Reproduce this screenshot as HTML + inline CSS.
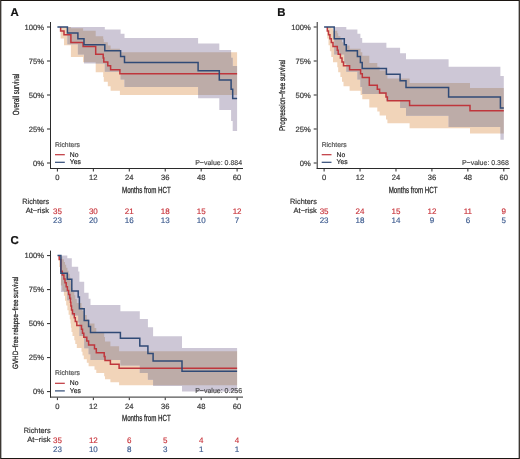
<!DOCTYPE html>
<html><head><meta charset="utf-8"><style>
html,body{margin:0;padding:0;background:#fff;}
body{width:520px;height:459px;overflow:hidden;position:relative;}
svg{position:absolute;left:0;top:0;will-change:transform;text-rendering:geometricPrecision;font-family:"Liberation Sans",sans-serif;}
.bd{position:absolute;left:0;top:0;width:520px;height:459px;box-sizing:border-box;}
</style></head><body>
<svg width="520" height="459" viewBox="0 0 520 459">
<rect width="520" height="459" fill="#fff"/>
<defs><clipPath id="coA"><path d="M60.60,27.00 L64.00,27.00 L64.00,27.00 L70.90,27.00 L70.90,28.21 L83.10,28.21 L83.10,30.66 L95.70,30.66 L95.70,36.18 L103.20,36.18 L103.20,39.17 L103.80,39.17 L103.80,42.28 L107.80,42.28 L107.80,45.50 L110.60,45.50 L110.60,48.83 L119.90,48.83 L119.90,52.24 L237.10,52.24 L237.10,95.02 L119.90,95.02 L119.90,90.66 L110.60,90.66 L110.60,86.21 L107.80,86.21 L107.80,81.66 L103.80,81.66 L103.80,77.01 L103.20,77.01 L103.20,72.22 L95.70,72.22 L95.70,62.20 L83.10,62.20 L83.10,56.88 L70.90,56.88 L70.90,45.23 L64.00,45.23 L64.00,38.39 L60.60,38.39 Z"/></clipPath></defs>
<path d="M60.60,27.00 L64.00,27.00 L64.00,27.00 L70.90,27.00 L70.90,28.21 L83.10,28.21 L83.10,30.66 L95.70,30.66 L95.70,36.18 L103.20,36.18 L103.20,39.17 L103.80,39.17 L103.80,42.28 L107.80,42.28 L107.80,45.50 L110.60,45.50 L110.60,48.83 L119.90,48.83 L119.90,52.24 L237.10,52.24 L237.10,95.02 L119.90,95.02 L119.90,90.66 L110.60,90.66 L110.60,86.21 L107.80,86.21 L107.80,81.66 L103.80,81.66 L103.80,77.01 L103.20,77.01 L103.20,72.22 L95.70,72.22 L95.70,62.20 L83.10,62.20 L83.10,56.88 L70.90,56.88 L70.90,45.23 L64.00,45.23 L64.00,38.39 L60.60,38.39 Z" fill="#F1D4B9"/>
<path d="M67.40,27.00 L77.90,27.00 L77.90,27.00 L84.00,27.00 L84.00,27.00 L104.80,27.00 L104.80,29.58 L120.60,29.58 L120.60,33.64 L124.50,33.64 L124.50,38.07 L198.10,38.07 L198.10,43.51 L219.30,43.51 L219.30,50.08 L231.10,50.08 L231.10,57.66 L232.70,57.66 L232.70,66.07 L237.10,66.07 L237.10,130.92 L232.70,130.92 L232.70,120.91 L231.10,120.91 L231.10,110.06 L219.30,110.06 L219.30,98.20 L198.10,98.20 L198.10,86.88 L124.50,86.88 L124.50,79.49 L120.60,79.49 L120.60,71.72 L104.80,71.72 L104.80,63.46 L84.00,63.46 L84.00,54.49 L77.90,54.49 L77.90,44.25 L67.40,44.25 Z" fill="#CDC7D6"/>
<path d="M67.40,27.00 L77.90,27.00 L77.90,27.00 L84.00,27.00 L84.00,27.00 L104.80,27.00 L104.80,29.58 L120.60,29.58 L120.60,33.64 L124.50,33.64 L124.50,38.07 L198.10,38.07 L198.10,43.51 L219.30,43.51 L219.30,50.08 L231.10,50.08 L231.10,57.66 L232.70,57.66 L232.70,66.07 L237.10,66.07 L237.10,130.92 L232.70,130.92 L232.70,120.91 L231.10,120.91 L231.10,110.06 L219.30,110.06 L219.30,98.20 L198.10,98.20 L198.10,86.88 L124.50,86.88 L124.50,79.49 L120.60,79.49 L120.60,71.72 L104.80,71.72 L104.80,63.46 L84.00,63.46 L84.00,54.49 L77.90,54.49 L77.90,44.25 L67.40,44.25 Z" fill="#BDACA8" clip-path="url(#coA)"/>
<path d="M60.60,27.00 L60.60,30.89 L64.00,30.89 L64.00,34.77 L70.90,34.77 L70.90,42.54 L83.10,42.54 L83.10,46.43 L95.70,46.43 L95.70,54.20 L103.20,54.20 L103.20,58.09 L103.80,58.09 L103.80,61.97 L107.80,61.97 L107.80,65.86 L110.60,65.86 L110.60,69.74 L119.90,69.74 L119.90,73.63 L237.10,73.63" fill="none" stroke="#BF363C" stroke-width="1.5" stroke-linejoin="miter" stroke-linecap="butt"/>
<path d="M57.40,27.00 L67.40,27.00 L67.40,32.91 L77.90,32.91 L77.90,38.83 L84.00,38.83 L84.00,44.74 L104.80,44.74 L104.80,50.65 L120.60,50.65 L120.60,56.57 L124.50,56.57 L124.50,62.48 L198.10,62.48 L198.10,70.86 L219.30,70.86 L219.30,80.07 L231.10,80.07 L231.10,89.28 L232.70,89.28 L232.70,98.50 L237.10,98.50" fill="none" stroke="#304A76" stroke-width="1.5" stroke-linejoin="miter" stroke-linecap="butt"/>
<defs><clipPath id="coB"><path d="M327.30,27.00 L328.50,27.00 L328.50,27.00 L329.90,27.00 L329.90,27.00 L331.30,27.00 L331.30,28.21 L333.00,28.21 L333.00,30.66 L337.30,30.66 L337.30,33.33 L338.20,33.33 L338.20,36.18 L340.40,36.18 L340.40,39.17 L342.00,39.17 L342.00,42.28 L343.50,42.28 L343.50,45.50 L349.60,45.50 L349.60,48.83 L360.60,48.83 L360.60,52.24 L362.30,52.24 L362.30,55.74 L369.30,55.74 L369.30,62.99 L377.30,62.99 L377.30,66.73 L379.60,66.73 L379.60,70.54 L386.00,70.54 L386.00,74.42 L387.40,74.42 L387.40,78.38 L409.60,78.38 L409.60,83.02 L470.00,83.02 L470.00,88.09 L503.80,88.09 L503.80,133.56 L470.00,133.56 L470.00,128.20 L409.60,128.20 L409.60,123.27 L387.40,123.27 L387.40,119.46 L386.00,119.46 L386.00,115.58 L379.60,115.58 L379.60,111.62 L377.30,111.62 L377.30,107.58 L369.30,107.58 L369.30,99.29 L362.30,99.29 L362.30,95.02 L360.60,95.02 L360.60,90.66 L349.60,90.66 L349.60,86.21 L343.50,86.21 L343.50,81.66 L342.00,81.66 L342.00,77.01 L340.40,77.01 L340.40,72.22 L338.20,72.22 L338.20,67.30 L337.30,67.30 L337.30,62.20 L333.00,62.20 L333.00,56.88 L331.30,56.88 L331.30,51.27 L329.90,51.27 L329.90,45.23 L328.50,45.23 L328.50,38.39 L327.30,38.39 Z"/></clipPath></defs>
<path d="M327.30,27.00 L328.50,27.00 L328.50,27.00 L329.90,27.00 L329.90,27.00 L331.30,27.00 L331.30,28.21 L333.00,28.21 L333.00,30.66 L337.30,30.66 L337.30,33.33 L338.20,33.33 L338.20,36.18 L340.40,36.18 L340.40,39.17 L342.00,39.17 L342.00,42.28 L343.50,42.28 L343.50,45.50 L349.60,45.50 L349.60,48.83 L360.60,48.83 L360.60,52.24 L362.30,52.24 L362.30,55.74 L369.30,55.74 L369.30,62.99 L377.30,62.99 L377.30,66.73 L379.60,66.73 L379.60,70.54 L386.00,70.54 L386.00,74.42 L387.40,74.42 L387.40,78.38 L409.60,78.38 L409.60,83.02 L470.00,83.02 L470.00,88.09 L503.80,88.09 L503.80,133.56 L470.00,133.56 L470.00,128.20 L409.60,128.20 L409.60,123.27 L387.40,123.27 L387.40,119.46 L386.00,119.46 L386.00,115.58 L379.60,115.58 L379.60,111.62 L377.30,111.62 L377.30,107.58 L369.30,107.58 L369.30,99.29 L362.30,99.29 L362.30,95.02 L360.60,95.02 L360.60,90.66 L349.60,90.66 L349.60,86.21 L343.50,86.21 L343.50,81.66 L342.00,81.66 L342.00,77.01 L340.40,77.01 L340.40,72.22 L338.20,72.22 L338.20,67.30 L337.30,67.30 L337.30,62.20 L333.00,62.20 L333.00,56.88 L331.30,56.88 L331.30,51.27 L329.90,51.27 L329.90,45.23 L328.50,45.23 L328.50,38.39 L327.30,38.39 Z" fill="#F1D4B9"/>
<path d="M334.20,27.00 L344.30,27.00 L344.30,27.00 L346.30,27.00 L346.30,29.58 L357.40,29.58 L357.40,33.64 L360.40,33.64 L360.40,38.07 L362.20,38.07 L362.20,42.82 L386.40,42.82 L386.40,47.83 L400.10,47.83 L400.10,53.30 L406.00,53.30 L406.00,59.33 L448.60,59.33 L448.60,66.82 L500.40,66.82 L500.40,76.04 L503.80,76.04 L503.80,139.86 L500.40,139.86 L500.40,127.06 L448.60,127.06 L448.60,115.68 L406.00,115.68 L406.00,107.98 L400.10,107.98 L400.10,100.78 L386.40,100.78 L386.40,93.97 L362.20,93.97 L362.20,86.88 L360.40,86.88 L360.40,79.49 L357.40,79.49 L357.40,71.72 L346.30,71.72 L346.30,63.46 L344.30,63.46 L344.30,54.49 L334.20,54.49 Z" fill="#CDC7D6"/>
<path d="M334.20,27.00 L344.30,27.00 L344.30,27.00 L346.30,27.00 L346.30,29.58 L357.40,29.58 L357.40,33.64 L360.40,33.64 L360.40,38.07 L362.20,38.07 L362.20,42.82 L386.40,42.82 L386.40,47.83 L400.10,47.83 L400.10,53.30 L406.00,53.30 L406.00,59.33 L448.60,59.33 L448.60,66.82 L500.40,66.82 L500.40,76.04 L503.80,76.04 L503.80,139.86 L500.40,139.86 L500.40,127.06 L448.60,127.06 L448.60,115.68 L406.00,115.68 L406.00,107.98 L400.10,107.98 L400.10,100.78 L386.40,100.78 L386.40,93.97 L362.20,93.97 L362.20,86.88 L360.40,86.88 L360.40,79.49 L357.40,79.49 L357.40,71.72 L346.30,71.72 L346.30,63.46 L344.30,63.46 L344.30,54.49 L334.20,54.49 Z" fill="#BDACA8" clip-path="url(#coB)"/>
<path d="M327.30,27.00 L327.30,30.89 L328.50,30.89 L328.50,34.77 L329.90,34.77 L329.90,38.66 L331.30,38.66 L331.30,42.54 L333.00,42.54 L333.00,46.43 L337.30,46.43 L337.30,50.31 L338.20,50.31 L338.20,54.20 L340.40,54.20 L340.40,58.09 L342.00,58.09 L342.00,61.97 L343.50,61.97 L343.50,65.86 L349.60,65.86 L349.60,69.74 L360.60,69.74 L360.60,73.63 L362.30,73.63 L362.30,77.51 L369.30,77.51 L369.30,85.29 L377.30,85.29 L377.30,89.17 L379.60,89.17 L379.60,93.06 L386.00,93.06 L386.00,96.94 L387.40,96.94 L387.40,100.83 L409.60,100.83 L409.60,105.61 L470.00,105.61 L470.00,110.83 L503.80,110.83" fill="none" stroke="#BF363C" stroke-width="1.5" stroke-linejoin="miter" stroke-linecap="butt"/>
<path d="M324.10,27.00 L334.20,27.00 L334.20,38.83 L344.30,38.83 L344.30,44.74 L346.30,44.74 L346.30,50.65 L357.40,50.65 L357.40,56.57 L360.40,56.57 L360.40,62.48 L362.20,62.48 L362.20,68.39 L386.40,68.39 L386.40,74.30 L400.10,74.30 L400.10,80.64 L406.00,80.64 L406.00,87.50 L448.60,87.50 L448.60,96.94 L500.40,96.94 L500.40,107.95 L503.80,107.95" fill="none" stroke="#304A76" stroke-width="1.5" stroke-linejoin="miter" stroke-linecap="butt"/>
<defs><clipPath id="coC"><path d="M59.20,255.60 L60.90,255.60 L60.90,256.81 L62.30,256.81 L62.30,259.26 L63.90,259.26 L63.90,261.93 L65.00,261.93 L65.00,264.77 L66.20,264.77 L66.20,267.76 L67.40,267.76 L67.40,270.87 L68.60,270.87 L68.60,274.09 L69.80,274.09 L69.80,277.41 L70.50,277.41 L70.50,280.82 L70.90,280.82 L70.90,284.32 L71.50,284.32 L71.50,287.90 L72.50,287.90 L72.50,291.56 L74.30,291.56 L74.30,295.30 L75.30,295.30 L75.30,299.11 L76.80,299.11 L76.80,302.99 L81.50,302.99 L81.50,306.95 L82.50,306.95 L82.50,310.98 L83.80,310.98 L83.80,315.08 L86.80,315.08 L86.80,319.27 L88.60,319.27 L88.60,323.53 L94.50,323.53 L94.50,327.89 L96.30,327.89 L96.30,332.33 L104.20,332.33 L104.20,336.88 L105.00,336.88 L105.00,341.53 L110.40,341.53 L110.40,346.31 L119.10,346.31 L119.10,351.23 L237.10,351.23 L237.10,385.17 L119.10,385.17 L119.10,382.33 L110.40,382.33 L110.40,379.34 L105.00,379.34 L105.00,376.23 L104.20,376.23 L104.20,373.01 L96.30,373.01 L96.30,369.69 L94.50,369.69 L94.50,366.28 L88.60,366.28 L88.60,362.78 L86.80,362.78 L86.80,359.20 L83.80,359.20 L83.80,355.54 L82.50,355.54 L82.50,351.80 L81.50,351.80 L81.50,347.99 L76.80,347.99 L76.80,344.11 L75.30,344.11 L75.30,340.15 L74.30,340.15 L74.30,336.12 L72.50,336.12 L72.50,332.02 L71.50,332.02 L71.50,327.83 L70.90,327.83 L70.90,323.57 L70.50,323.57 L70.50,319.21 L69.80,319.21 L69.80,314.77 L68.60,314.77 L68.60,310.22 L67.40,310.22 L67.40,305.57 L66.20,305.57 L66.20,300.79 L65.00,300.79 L65.00,295.87 L63.90,295.87 L63.90,290.77 L62.30,290.77 L62.30,285.46 L60.90,285.46 L60.90,266.98 L59.20,266.98 Z"/></clipPath></defs>
<path d="M59.20,255.60 L60.90,255.60 L60.90,256.81 L62.30,256.81 L62.30,259.26 L63.90,259.26 L63.90,261.93 L65.00,261.93 L65.00,264.77 L66.20,264.77 L66.20,267.76 L67.40,267.76 L67.40,270.87 L68.60,270.87 L68.60,274.09 L69.80,274.09 L69.80,277.41 L70.50,277.41 L70.50,280.82 L70.90,280.82 L70.90,284.32 L71.50,284.32 L71.50,287.90 L72.50,287.90 L72.50,291.56 L74.30,291.56 L74.30,295.30 L75.30,295.30 L75.30,299.11 L76.80,299.11 L76.80,302.99 L81.50,302.99 L81.50,306.95 L82.50,306.95 L82.50,310.98 L83.80,310.98 L83.80,315.08 L86.80,315.08 L86.80,319.27 L88.60,319.27 L88.60,323.53 L94.50,323.53 L94.50,327.89 L96.30,327.89 L96.30,332.33 L104.20,332.33 L104.20,336.88 L105.00,336.88 L105.00,341.53 L110.40,341.53 L110.40,346.31 L119.10,346.31 L119.10,351.23 L237.10,351.23 L237.10,385.17 L119.10,385.17 L119.10,382.33 L110.40,382.33 L110.40,379.34 L105.00,379.34 L105.00,376.23 L104.20,376.23 L104.20,373.01 L96.30,373.01 L96.30,369.69 L94.50,369.69 L94.50,366.28 L88.60,366.28 L88.60,362.78 L86.80,362.78 L86.80,359.20 L83.80,359.20 L83.80,355.54 L82.50,355.54 L82.50,351.80 L81.50,351.80 L81.50,347.99 L76.80,347.99 L76.80,344.11 L75.30,344.11 L75.30,340.15 L74.30,340.15 L74.30,336.12 L72.50,336.12 L72.50,332.02 L71.50,332.02 L71.50,327.83 L70.90,327.83 L70.90,323.57 L70.50,323.57 L70.50,319.21 L69.80,319.21 L69.80,314.77 L68.60,314.77 L68.60,310.22 L67.40,310.22 L67.40,305.57 L66.20,305.57 L66.20,300.79 L65.00,300.79 L65.00,295.87 L63.90,295.87 L63.90,290.77 L62.30,290.77 L62.30,285.46 L60.90,285.46 L60.90,266.98 L59.20,266.98 Z" fill="#F1D4B9"/>
<path d="M60.90,255.60 L67.30,255.60 L67.30,258.18 L71.80,258.18 L71.80,266.66 L78.20,266.66 L78.20,271.40 L79.40,271.40 L79.40,281.67 L84.20,281.67 L84.20,292.85 L88.60,292.85 L88.60,298.76 L90.50,298.76 L90.50,304.88 L120.40,304.88 L120.40,311.22 L139.80,311.22 L139.80,318.90 L147.90,318.90 L147.90,327.22 L153.10,327.22 L153.10,336.21 L182.00,336.21 L182.00,348.04 L237.10,348.04 L237.10,391.50 L182.00,391.50 L182.00,386.01 L153.10,386.01 L153.10,379.81 L147.90,379.81 L147.90,372.93 L139.80,372.93 L139.80,365.43 L120.40,365.43 L120.40,359.95 L90.50,359.95 L90.50,354.25 L88.60,354.25 L88.60,348.34 L84.20,348.34 L84.20,335.88 L79.40,335.88 L79.40,322.52 L78.20,322.52 L78.20,315.44 L71.80,315.44 L71.80,300.29 L67.30,300.29 L67.30,292.03 L60.90,292.03 Z" fill="#CDC7D6"/>
<path d="M60.90,255.60 L67.30,255.60 L67.30,258.18 L71.80,258.18 L71.80,266.66 L78.20,266.66 L78.20,271.40 L79.40,271.40 L79.40,281.67 L84.20,281.67 L84.20,292.85 L88.60,292.85 L88.60,298.76 L90.50,298.76 L90.50,304.88 L120.40,304.88 L120.40,311.22 L139.80,311.22 L139.80,318.90 L147.90,318.90 L147.90,327.22 L153.10,327.22 L153.10,336.21 L182.00,336.21 L182.00,348.04 L237.10,348.04 L237.10,391.50 L182.00,391.50 L182.00,386.01 L153.10,386.01 L153.10,379.81 L147.90,379.81 L147.90,372.93 L139.80,372.93 L139.80,365.43 L120.40,365.43 L120.40,359.95 L90.50,359.95 L90.50,354.25 L88.60,354.25 L88.60,348.34 L84.20,348.34 L84.20,335.88 L79.40,335.88 L79.40,322.52 L78.20,322.52 L78.20,315.44 L71.80,315.44 L71.80,300.29 L67.30,300.29 L67.30,292.03 L60.90,292.03 Z" fill="#BDACA8" clip-path="url(#coC)"/>
<path d="M59.20,255.60 L59.20,259.48 L60.90,259.48 L60.90,271.13 L62.30,271.13 L62.30,275.01 L63.90,275.01 L63.90,278.90 L65.00,278.90 L65.00,282.78 L66.20,282.78 L66.20,286.66 L67.40,286.66 L67.40,290.55 L68.60,290.55 L68.60,294.43 L69.80,294.43 L69.80,298.31 L70.50,298.31 L70.50,302.19 L70.90,302.19 L70.90,306.08 L71.50,306.08 L71.50,309.96 L72.50,309.96 L72.50,313.84 L74.30,313.84 L74.30,317.73 L75.30,317.73 L75.30,321.61 L76.80,321.61 L76.80,325.49 L81.50,325.49 L81.50,329.37 L82.50,329.37 L82.50,333.26 L83.80,333.26 L83.80,337.14 L86.80,337.14 L86.80,341.02 L88.60,341.02 L88.60,344.91 L94.50,344.91 L94.50,348.79 L96.30,348.79 L96.30,352.67 L104.20,352.67 L104.20,356.55 L105.00,356.55 L105.00,360.44 L110.40,360.44 L110.40,364.32 L119.10,364.32 L119.10,368.20 L237.10,368.20" fill="none" stroke="#BF363C" stroke-width="1.5" stroke-linejoin="miter" stroke-linecap="butt"/>
<path d="M57.50,255.60 L60.90,255.60 L60.90,273.33 L67.30,273.33 L67.30,279.23 L71.80,279.23 L71.80,291.05 L78.20,291.05 L78.20,296.96 L79.40,296.96 L79.40,308.78 L84.20,308.78 L84.20,320.60 L88.60,320.60 L88.60,326.50 L90.50,326.50 L90.50,332.41 L120.40,332.41 L120.40,338.32 L139.80,338.32 L139.80,345.92 L147.90,345.92 L147.90,353.52 L153.10,353.52 L153.10,361.11 L182.00,361.11 L182.00,371.24 L237.10,371.24" fill="none" stroke="#304A76" stroke-width="1.5" stroke-linejoin="miter" stroke-linecap="butt"/>
<text x="10.6" y="15.6" font-size="11.4" fill="#111" text-anchor="start" font-weight="bold" stroke="#111" stroke-width="0.2">A</text>
<rect x="50" y="22" width="1" height="147" fill="#2b2b2b"/>
<rect x="50" y="168" width="193" height="1" fill="#2b2b2b"/>
<rect x="47" y="26.50" width="3" height="1" fill="#2b2b2b"/>
<text x="44" y="29.7" font-size="7.6" fill="#3a3a3a" text-anchor="end" font-weight="normal" stroke="#3a3a3a" stroke-width="0.2">100%</text>
<rect x="47" y="60.50" width="3" height="1" fill="#2b2b2b"/>
<text x="44" y="63.7" font-size="7.6" fill="#3a3a3a" text-anchor="end" font-weight="normal" stroke="#3a3a3a" stroke-width="0.2">75%</text>
<rect x="47" y="94.50" width="3" height="1" fill="#2b2b2b"/>
<text x="44" y="97.7" font-size="7.6" fill="#3a3a3a" text-anchor="end" font-weight="normal" stroke="#3a3a3a" stroke-width="0.2">50%</text>
<rect x="47" y="128.50" width="3" height="1" fill="#2b2b2b"/>
<text x="44" y="131.7" font-size="7.6" fill="#3a3a3a" text-anchor="end" font-weight="normal" stroke="#3a3a3a" stroke-width="0.2">25%</text>
<rect x="47" y="162.50" width="3" height="1" fill="#2b2b2b"/>
<text x="44" y="165.7" font-size="7.6" fill="#3a3a3a" text-anchor="end" font-weight="normal" stroke="#3a3a3a" stroke-width="0.2">0%</text>
<rect x="56.90" y="169" width="1" height="2.5" fill="#2b2b2b"/>
<text x="57.40" y="180.1" font-size="7.6" fill="#3a3a3a" text-anchor="middle" font-weight="normal" stroke="#3a3a3a" stroke-width="0.2">0</text>
<rect x="92.84" y="169" width="1" height="2.5" fill="#2b2b2b"/>
<text x="93.34" y="180.1" font-size="7.6" fill="#3a3a3a" text-anchor="middle" font-weight="normal" stroke="#3a3a3a" stroke-width="0.2">12</text>
<rect x="128.78" y="169" width="1" height="2.5" fill="#2b2b2b"/>
<text x="129.28" y="180.1" font-size="7.6" fill="#3a3a3a" text-anchor="middle" font-weight="normal" stroke="#3a3a3a" stroke-width="0.2">24</text>
<rect x="164.72" y="169" width="1" height="2.5" fill="#2b2b2b"/>
<text x="165.22" y="180.1" font-size="7.6" fill="#3a3a3a" text-anchor="middle" font-weight="normal" stroke="#3a3a3a" stroke-width="0.2">36</text>
<rect x="200.66" y="169" width="1" height="2.5" fill="#2b2b2b"/>
<text x="201.16" y="180.1" font-size="7.6" fill="#3a3a3a" text-anchor="middle" font-weight="normal" stroke="#3a3a3a" stroke-width="0.2">48</text>
<rect x="236.60" y="169" width="1" height="2.5" fill="#2b2b2b"/>
<text x="237.10" y="180.1" font-size="7.6" fill="#3a3a3a" text-anchor="middle" font-weight="normal" stroke="#3a3a3a" stroke-width="0.2">60</text>
<text x="146.4" y="192.6" font-size="8.9" fill="#222222" text-anchor="middle" font-weight="normal" textLength="48.8" lengthAdjust="spacingAndGlyphs" stroke="#222222" stroke-width="0.25">Months from HCT</text>
<g transform="translate(18.9,94.5) rotate(-90)"><text x="0" y="0" font-size="8.9" fill="#222222" text-anchor="middle" font-weight="normal" textLength="41.4" lengthAdjust="spacingAndGlyphs" stroke="#222222" stroke-width="0.25">Overall survival</text></g>
<text x="55" y="146.6" font-size="6.8" fill="#4a4a4a" text-anchor="start" font-weight="normal" textLength="25" lengthAdjust="spacingAndGlyphs" stroke="#4a4a4a" stroke-width="0.15">Richters</text>
<rect x="55" y="154.1" width="9.8" height="1.2" fill="#BF363C"/>
<rect x="55" y="161.7" width="9.8" height="1.2" fill="#304A76"/>
<text x="69.8" y="156.8" font-size="6.8" fill="#222" text-anchor="start" font-weight="normal" stroke="#222" stroke-width="0.15">No</text>
<text x="69.8" y="164.0" font-size="6.8" fill="#222" text-anchor="start" font-weight="normal" stroke="#222" stroke-width="0.15">Yes</text>
<text x="242.1" y="164.6" font-size="7.0" fill="#444" text-anchor="end" font-weight="normal" textLength="46.9" lengthAdjust="spacingAndGlyphs" stroke="#444" stroke-width="0.15">P−value: 0.884</text>
<text x="49.1" y="203.8" font-size="7.6" fill="#333" text-anchor="end" font-weight="normal" textLength="26.8" lengthAdjust="spacingAndGlyphs" stroke="#333" stroke-width="0.2">Richters</text>
<text x="49.1" y="212.6" font-size="7.6" fill="#333" text-anchor="end" font-weight="normal" textLength="23.4" lengthAdjust="spacingAndGlyphs" stroke="#333" stroke-width="0.2">At−risk</text>
<text x="57.40" y="213.9" font-size="8.0" fill="#C8333A" text-anchor="middle" font-weight="normal" stroke="#C8333A" stroke-width="0.15">35</text>
<text x="57.40" y="222.9" font-size="8.0" fill="#3C5A8E" text-anchor="middle" font-weight="normal" stroke="#3C5A8E" stroke-width="0.15">23</text>
<text x="93.34" y="213.9" font-size="8.0" fill="#C8333A" text-anchor="middle" font-weight="normal" stroke="#C8333A" stroke-width="0.15">30</text>
<text x="93.34" y="222.9" font-size="8.0" fill="#3C5A8E" text-anchor="middle" font-weight="normal" stroke="#3C5A8E" stroke-width="0.15">20</text>
<text x="129.28" y="213.9" font-size="8.0" fill="#C8333A" text-anchor="middle" font-weight="normal" stroke="#C8333A" stroke-width="0.15">21</text>
<text x="129.28" y="222.9" font-size="8.0" fill="#3C5A8E" text-anchor="middle" font-weight="normal" stroke="#3C5A8E" stroke-width="0.15">16</text>
<text x="165.22" y="213.9" font-size="8.0" fill="#C8333A" text-anchor="middle" font-weight="normal" stroke="#C8333A" stroke-width="0.15">18</text>
<text x="165.22" y="222.9" font-size="8.0" fill="#3C5A8E" text-anchor="middle" font-weight="normal" stroke="#3C5A8E" stroke-width="0.15">13</text>
<text x="201.16" y="213.9" font-size="8.0" fill="#C8333A" text-anchor="middle" font-weight="normal" stroke="#C8333A" stroke-width="0.15">15</text>
<text x="201.16" y="222.9" font-size="8.0" fill="#3C5A8E" text-anchor="middle" font-weight="normal" stroke="#3C5A8E" stroke-width="0.15">10</text>
<text x="237.10" y="213.9" font-size="8.0" fill="#C8333A" text-anchor="middle" font-weight="normal" stroke="#C8333A" stroke-width="0.15">12</text>
<text x="237.10" y="222.9" font-size="8.0" fill="#3C5A8E" text-anchor="middle" font-weight="normal" stroke="#3C5A8E" stroke-width="0.15">7</text>
<text x="277.3" y="15.6" font-size="11.4" fill="#111" text-anchor="start" font-weight="bold" stroke="#111" stroke-width="0.2">B</text>
<rect x="316.7" y="22" width="1" height="147" fill="#2b2b2b"/>
<rect x="316.7" y="168" width="193" height="1" fill="#2b2b2b"/>
<rect x="313.7" y="26.50" width="3" height="1" fill="#2b2b2b"/>
<text x="310.7" y="29.7" font-size="7.6" fill="#3a3a3a" text-anchor="end" font-weight="normal" stroke="#3a3a3a" stroke-width="0.2">100%</text>
<rect x="313.7" y="60.50" width="3" height="1" fill="#2b2b2b"/>
<text x="310.7" y="63.7" font-size="7.6" fill="#3a3a3a" text-anchor="end" font-weight="normal" stroke="#3a3a3a" stroke-width="0.2">75%</text>
<rect x="313.7" y="94.50" width="3" height="1" fill="#2b2b2b"/>
<text x="310.7" y="97.7" font-size="7.6" fill="#3a3a3a" text-anchor="end" font-weight="normal" stroke="#3a3a3a" stroke-width="0.2">50%</text>
<rect x="313.7" y="128.50" width="3" height="1" fill="#2b2b2b"/>
<text x="310.7" y="131.7" font-size="7.6" fill="#3a3a3a" text-anchor="end" font-weight="normal" stroke="#3a3a3a" stroke-width="0.2">25%</text>
<rect x="313.7" y="162.50" width="3" height="1" fill="#2b2b2b"/>
<text x="310.7" y="165.7" font-size="7.6" fill="#3a3a3a" text-anchor="end" font-weight="normal" stroke="#3a3a3a" stroke-width="0.2">0%</text>
<rect x="323.60" y="169" width="1" height="2.5" fill="#2b2b2b"/>
<text x="324.10" y="180.1" font-size="7.6" fill="#3a3a3a" text-anchor="middle" font-weight="normal" stroke="#3a3a3a" stroke-width="0.2">0</text>
<rect x="359.54" y="169" width="1" height="2.5" fill="#2b2b2b"/>
<text x="360.04" y="180.1" font-size="7.6" fill="#3a3a3a" text-anchor="middle" font-weight="normal" stroke="#3a3a3a" stroke-width="0.2">12</text>
<rect x="395.48" y="169" width="1" height="2.5" fill="#2b2b2b"/>
<text x="395.98" y="180.1" font-size="7.6" fill="#3a3a3a" text-anchor="middle" font-weight="normal" stroke="#3a3a3a" stroke-width="0.2">24</text>
<rect x="431.42" y="169" width="1" height="2.5" fill="#2b2b2b"/>
<text x="431.92" y="180.1" font-size="7.6" fill="#3a3a3a" text-anchor="middle" font-weight="normal" stroke="#3a3a3a" stroke-width="0.2">36</text>
<rect x="467.36" y="169" width="1" height="2.5" fill="#2b2b2b"/>
<text x="467.86" y="180.1" font-size="7.6" fill="#3a3a3a" text-anchor="middle" font-weight="normal" stroke="#3a3a3a" stroke-width="0.2">48</text>
<rect x="503.30" y="169" width="1" height="2.5" fill="#2b2b2b"/>
<text x="503.80" y="180.1" font-size="7.6" fill="#3a3a3a" text-anchor="middle" font-weight="normal" stroke="#3a3a3a" stroke-width="0.2">60</text>
<text x="413.1" y="192.6" font-size="8.9" fill="#222222" text-anchor="middle" font-weight="normal" textLength="48.8" lengthAdjust="spacingAndGlyphs" stroke="#222222" stroke-width="0.25">Months from HCT</text>
<g transform="translate(285.3,95.4) rotate(-90)"><text x="0" y="0" font-size="8.3" fill="#222222" text-anchor="middle" font-weight="normal" textLength="71.4" lengthAdjust="spacingAndGlyphs" stroke="#222222" stroke-width="0.25">Progression−free survival</text></g>
<text x="321.7" y="146.6" font-size="6.8" fill="#4a4a4a" text-anchor="start" font-weight="normal" textLength="25" lengthAdjust="spacingAndGlyphs" stroke="#4a4a4a" stroke-width="0.15">Richters</text>
<rect x="321.7" y="154.1" width="9.8" height="1.2" fill="#BF363C"/>
<rect x="321.7" y="161.7" width="9.8" height="1.2" fill="#304A76"/>
<text x="336.5" y="156.8" font-size="6.8" fill="#222" text-anchor="start" font-weight="normal" stroke="#222" stroke-width="0.15">No</text>
<text x="336.5" y="164.0" font-size="6.8" fill="#222" text-anchor="start" font-weight="normal" stroke="#222" stroke-width="0.15">Yes</text>
<text x="508.79999999999995" y="164.6" font-size="7.0" fill="#444" text-anchor="end" font-weight="normal" textLength="46.9" lengthAdjust="spacingAndGlyphs" stroke="#444" stroke-width="0.15">P−value: 0.368</text>
<text x="316.9" y="203.8" font-size="7.6" fill="#333" text-anchor="end" font-weight="normal" textLength="26.8" lengthAdjust="spacingAndGlyphs" stroke="#333" stroke-width="0.2">Richters</text>
<text x="316.9" y="212.6" font-size="7.6" fill="#333" text-anchor="end" font-weight="normal" textLength="23.4" lengthAdjust="spacingAndGlyphs" stroke="#333" stroke-width="0.2">At−risk</text>
<text x="324.10" y="213.9" font-size="8.0" fill="#C8333A" text-anchor="middle" font-weight="normal" stroke="#C8333A" stroke-width="0.15">35</text>
<text x="324.10" y="222.9" font-size="8.0" fill="#3C5A8E" text-anchor="middle" font-weight="normal" stroke="#3C5A8E" stroke-width="0.15">23</text>
<text x="360.04" y="213.9" font-size="8.0" fill="#C8333A" text-anchor="middle" font-weight="normal" stroke="#C8333A" stroke-width="0.15">24</text>
<text x="360.04" y="222.9" font-size="8.0" fill="#3C5A8E" text-anchor="middle" font-weight="normal" stroke="#3C5A8E" stroke-width="0.15">18</text>
<text x="395.98" y="213.9" font-size="8.0" fill="#C8333A" text-anchor="middle" font-weight="normal" stroke="#C8333A" stroke-width="0.15">15</text>
<text x="395.98" y="222.9" font-size="8.0" fill="#3C5A8E" text-anchor="middle" font-weight="normal" stroke="#3C5A8E" stroke-width="0.15">14</text>
<text x="431.92" y="213.9" font-size="8.0" fill="#C8333A" text-anchor="middle" font-weight="normal" stroke="#C8333A" stroke-width="0.15">12</text>
<text x="431.92" y="222.9" font-size="8.0" fill="#3C5A8E" text-anchor="middle" font-weight="normal" stroke="#3C5A8E" stroke-width="0.15">9</text>
<text x="467.86" y="213.9" font-size="8.0" fill="#C8333A" text-anchor="middle" font-weight="normal" stroke="#C8333A" stroke-width="0.15">11</text>
<text x="467.86" y="222.9" font-size="8.0" fill="#3C5A8E" text-anchor="middle" font-weight="normal" stroke="#3C5A8E" stroke-width="0.15">6</text>
<text x="503.80" y="213.9" font-size="8.0" fill="#C8333A" text-anchor="middle" font-weight="normal" stroke="#C8333A" stroke-width="0.15">9</text>
<text x="503.80" y="222.9" font-size="8.0" fill="#3C5A8E" text-anchor="middle" font-weight="normal" stroke="#3C5A8E" stroke-width="0.15">5</text>
<text x="10.6" y="244.2" font-size="11.4" fill="#111" text-anchor="start" font-weight="bold" stroke="#111" stroke-width="0.2">C</text>
<rect x="50" y="250.6" width="1" height="147" fill="#2b2b2b"/>
<rect x="50" y="396.6" width="193" height="1" fill="#2b2b2b"/>
<rect x="47" y="255.10" width="3" height="1" fill="#2b2b2b"/>
<text x="44" y="258.3" font-size="7.6" fill="#3a3a3a" text-anchor="end" font-weight="normal" stroke="#3a3a3a" stroke-width="0.2">100%</text>
<rect x="47" y="289.10" width="3" height="1" fill="#2b2b2b"/>
<text x="44" y="292.3" font-size="7.6" fill="#3a3a3a" text-anchor="end" font-weight="normal" stroke="#3a3a3a" stroke-width="0.2">75%</text>
<rect x="47" y="323.10" width="3" height="1" fill="#2b2b2b"/>
<text x="44" y="326.3" font-size="7.6" fill="#3a3a3a" text-anchor="end" font-weight="normal" stroke="#3a3a3a" stroke-width="0.2">50%</text>
<rect x="47" y="357.10" width="3" height="1" fill="#2b2b2b"/>
<text x="44" y="360.3" font-size="7.6" fill="#3a3a3a" text-anchor="end" font-weight="normal" stroke="#3a3a3a" stroke-width="0.2">25%</text>
<rect x="47" y="391.10" width="3" height="1" fill="#2b2b2b"/>
<text x="44" y="394.3" font-size="7.6" fill="#3a3a3a" text-anchor="end" font-weight="normal" stroke="#3a3a3a" stroke-width="0.2">0%</text>
<rect x="56.90" y="397.6" width="1" height="2.5" fill="#2b2b2b"/>
<text x="57.40" y="408.7" font-size="7.6" fill="#3a3a3a" text-anchor="middle" font-weight="normal" stroke="#3a3a3a" stroke-width="0.2">0</text>
<rect x="92.84" y="397.6" width="1" height="2.5" fill="#2b2b2b"/>
<text x="93.34" y="408.7" font-size="7.6" fill="#3a3a3a" text-anchor="middle" font-weight="normal" stroke="#3a3a3a" stroke-width="0.2">12</text>
<rect x="128.78" y="397.6" width="1" height="2.5" fill="#2b2b2b"/>
<text x="129.28" y="408.7" font-size="7.6" fill="#3a3a3a" text-anchor="middle" font-weight="normal" stroke="#3a3a3a" stroke-width="0.2">24</text>
<rect x="164.72" y="397.6" width="1" height="2.5" fill="#2b2b2b"/>
<text x="165.22" y="408.7" font-size="7.6" fill="#3a3a3a" text-anchor="middle" font-weight="normal" stroke="#3a3a3a" stroke-width="0.2">36</text>
<rect x="200.66" y="397.6" width="1" height="2.5" fill="#2b2b2b"/>
<text x="201.16" y="408.7" font-size="7.6" fill="#3a3a3a" text-anchor="middle" font-weight="normal" stroke="#3a3a3a" stroke-width="0.2">48</text>
<rect x="236.60" y="397.6" width="1" height="2.5" fill="#2b2b2b"/>
<text x="237.10" y="408.7" font-size="7.6" fill="#3a3a3a" text-anchor="middle" font-weight="normal" stroke="#3a3a3a" stroke-width="0.2">60</text>
<text x="146.4" y="421.2" font-size="8.9" fill="#222222" text-anchor="middle" font-weight="normal" textLength="48.8" lengthAdjust="spacingAndGlyphs" stroke="#222222" stroke-width="0.25">Months from HCT</text>
<g transform="translate(18.1,322.8) rotate(-90)"><text x="0" y="0" font-size="7.7" fill="#222222" text-anchor="middle" font-weight="normal" textLength="92.3" lengthAdjust="spacingAndGlyphs" stroke="#222222" stroke-width="0.25">GVHD−free relapse−free survival</text></g>
<text x="55" y="375.2" font-size="6.8" fill="#4a4a4a" text-anchor="start" font-weight="normal" textLength="25" lengthAdjust="spacingAndGlyphs" stroke="#4a4a4a" stroke-width="0.15">Richters</text>
<rect x="55" y="382.7" width="9.8" height="1.2" fill="#BF363C"/>
<rect x="55" y="390.29999999999995" width="9.8" height="1.2" fill="#304A76"/>
<text x="69.8" y="385.4" font-size="6.8" fill="#222" text-anchor="start" font-weight="normal" stroke="#222" stroke-width="0.15">No</text>
<text x="69.8" y="392.6" font-size="6.8" fill="#222" text-anchor="start" font-weight="normal" stroke="#222" stroke-width="0.15">Yes</text>
<text x="242.1" y="393.2" font-size="7.0" fill="#444" text-anchor="end" font-weight="normal" textLength="46.9" lengthAdjust="spacingAndGlyphs" stroke="#444" stroke-width="0.15">P−value: 0.256</text>
<text x="50.6" y="433.3" font-size="7.6" fill="#333" text-anchor="end" font-weight="normal" textLength="26.8" lengthAdjust="spacingAndGlyphs" stroke="#333" stroke-width="0.2">Richters</text>
<text x="50.6" y="442.1" font-size="7.6" fill="#333" text-anchor="end" font-weight="normal" textLength="23.4" lengthAdjust="spacingAndGlyphs" stroke="#333" stroke-width="0.2">At−risk</text>
<text x="57.40" y="442.5" font-size="8.0" fill="#C8333A" text-anchor="middle" font-weight="normal" stroke="#C8333A" stroke-width="0.15">35</text>
<text x="57.40" y="451.5" font-size="8.0" fill="#3C5A8E" text-anchor="middle" font-weight="normal" stroke="#3C5A8E" stroke-width="0.15">23</text>
<text x="93.34" y="442.5" font-size="8.0" fill="#C8333A" text-anchor="middle" font-weight="normal" stroke="#C8333A" stroke-width="0.15">12</text>
<text x="93.34" y="451.5" font-size="8.0" fill="#3C5A8E" text-anchor="middle" font-weight="normal" stroke="#3C5A8E" stroke-width="0.15">10</text>
<text x="129.28" y="442.5" font-size="8.0" fill="#C8333A" text-anchor="middle" font-weight="normal" stroke="#C8333A" stroke-width="0.15">6</text>
<text x="129.28" y="451.5" font-size="8.0" fill="#3C5A8E" text-anchor="middle" font-weight="normal" stroke="#3C5A8E" stroke-width="0.15">8</text>
<text x="165.22" y="442.5" font-size="8.0" fill="#C8333A" text-anchor="middle" font-weight="normal" stroke="#C8333A" stroke-width="0.15">5</text>
<text x="165.22" y="451.5" font-size="8.0" fill="#3C5A8E" text-anchor="middle" font-weight="normal" stroke="#3C5A8E" stroke-width="0.15">3</text>
<text x="201.16" y="442.5" font-size="8.0" fill="#C8333A" text-anchor="middle" font-weight="normal" stroke="#C8333A" stroke-width="0.15">4</text>
<text x="201.16" y="451.5" font-size="8.0" fill="#3C5A8E" text-anchor="middle" font-weight="normal" stroke="#3C5A8E" stroke-width="0.15">1</text>
<text x="237.10" y="442.5" font-size="8.0" fill="#C8333A" text-anchor="middle" font-weight="normal" stroke="#C8333A" stroke-width="0.15">4</text>
<text x="237.10" y="451.5" font-size="8.0" fill="#3C5A8E" text-anchor="middle" font-weight="normal" stroke="#3C5A8E" stroke-width="0.15">1</text>
<rect x="0" y="0" width="520" height="1" fill="#1c1612"/>
<rect x="0" y="458" width="520" height="1" fill="#1c1612"/>
<rect x="0" y="0" width="1" height="459" fill="#3c3732"/>
<rect x="519" y="0" width="1" height="459" fill="#3c3732"/>
<rect x="1" y="1" width="1" height="457" fill="#b4b4b4"/>
<rect x="518" y="1" width="1" height="457" fill="#b4b4b4"/>
</svg>
</body></html>
